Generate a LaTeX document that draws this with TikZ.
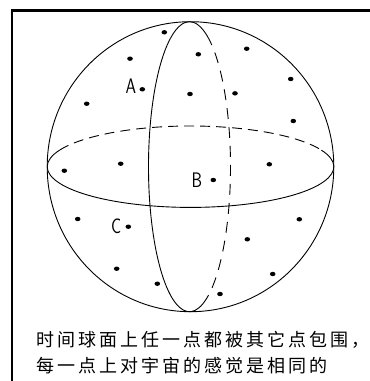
\documentclass[tikz,border=0pt]{standalone}
\usepackage{fontspec}
\usepackage{tikz}
\usetikzlibrary{positioning,shapes.geometric}
\newfontfamily\cjk[LetterSpace=16.7]{Noto Sans CJK SC}
\newcommand{\ptname}[1]{\scalebox{0.8}[1]{#1}}

\begin{document}
\begin{tikzpicture}[x=1pt, y=-1pt,
    pt/.style={ellipse, fill=black, inner sep=0pt, minimum width=5.6pt, minimum height=4.4pt},
    ptlabel/.style={inner sep=0pt, font=\fontsize{21}{21}\selectfont\sffamily},
    thinline/.style={line width=0.9pt},
    hidden/.style={thinline, dash pattern=on 10pt off 6pt}]
\useasboundingbox (0,0) rectangle (370,381);

% frame
\draw[line width=2.3pt] (12.2,381) -- (12.2,10.5) -- (370,10.5);

% sphere with equator and meridian
\coordinate (o) at (190.5,166.7);
\coordinate (m) at (189.5,166.7);
\draw[thinline] (o) ellipse [x radius=143.3, y radius=145];
\draw[thinline] (o) ++(-24:143.3 and 40.7) arc[start angle=-24, end angle=204, x radius=143.3, y radius=40.7];
\draw[hidden] (o) ++(204:143.3 and 40.7) arc[start angle=204, end angle=336, x radius=143.3, y radius=40.7];
\draw[thinline] (m) ++(65:41 and 145) arc[start angle=65, end angle=295, x radius=41, y radius=145];
\draw[hidden, dash pattern=on 11pt off 8pt] (m) ++(-65:41 and 145) arc[start angle=-65, end angle=65, x radius=41, y radius=145];

% points on the sphere
\foreach \px/\py in {164.3/32.3, 130/58.7, 198.3/54.3, 246.7/48.7, 290.7/79,
    190/94, 235/93.3, 86.7/103.7, 293.3/121, 64.3/170.7, 120.7/163.7,
    269.3/164.3, 77.7/219, 299.3/219.3, 247.3/239.3, 116.7/268.7,
    157.3/283.7, 272.7/274, 220/294}
  \fill (\px,\py) ellipse [x radius=2.8, y radius=2.2];

\node[pt] (ptA) at (142.3,89.3) {};
\node[pt] (ptB) at (213.3,180) {};
\node[pt] (ptC) at (128.3,226.7) {};
\node[ptlabel, left=3pt of ptA, yshift=3pt] (labA) {\ptname{A}};
\node[ptlabel, left=8pt of ptB] (labB) {\ptname{B}};
\node[ptlabel, left=4pt of ptC] (labC) {\ptname{C}};

% caption
\node[anchor=base west, inner sep=0pt, font=\fontsize{18}{26}\selectfont\cjk, align=left] (caption) at (36.5,372)
  {时间球面上任一点都被其它点包围，\\每一点上对宇宙的感觉是相同的};
\end{tikzpicture}
\end{document}
